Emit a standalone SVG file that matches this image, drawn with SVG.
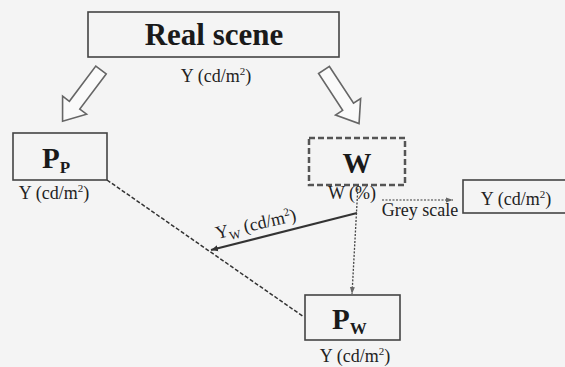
<svg xmlns="http://www.w3.org/2000/svg" width="565" height="367" viewBox="0 0 565 367">
<defs>
<style>
.box{fill:none;stroke:#444;stroke-width:1.6}
.dbox{fill:none;stroke:#555;stroke-width:2.5;stroke-dasharray:6,3}
.big{font-family:"Liberation Serif",serif;font-weight:bold;fill:#1a1a1a}
.lbl{font-family:"Liberation Serif",serif;font-size:18px;fill:#222}
.hollow{fill:#fafafa;stroke:#666;stroke-width:1.6;stroke-linejoin:miter}
</style>
<marker id="ah" markerWidth="8" markerHeight="8" refX="7" refY="4" orient="auto" markerUnits="userSpaceOnUse">
<path d="M0,1 L7,4 L0,7 z" fill="#333"/>
</marker>
<marker id="ahg" markerWidth="8" markerHeight="8" refX="7" refY="4" orient="auto" markerUnits="userSpaceOnUse">
<path d="M0,1.5 L7,4 L0,6.5 z" fill="#666"/>
</marker>
<path id="harrow" d="M0,-6.5 L44,-6.5 L44,-15 L64,0 L44,15 L44,6.5 L0,6.5 Z"/>
</defs>
<rect width="565" height="367" fill="#f4f4f4"/>

<g id="real-scene">
<rect class="box" x="88" y="12" width="251" height="45"/>
<text class="big" x="214" y="45" font-size="31" text-anchor="middle">Real scene</text>
<text class="lbl" x="216" y="82" text-anchor="middle">Y (cd/m<tspan font-size="11" dy="-7">2</tspan><tspan dy="7">)</tspan></text>
</g>

<g id="pp">
<rect class="box" x="13" y="133" width="94" height="47"/>
<text class="big" x="42" y="168" font-size="29">P<tspan font-size="17" dy="5">P</tspan></text>
<text class="lbl" x="54" y="199" text-anchor="middle">Y (cd/m<tspan font-size="11" dy="-7">2</tspan><tspan dy="7">)</tspan></text>
</g>

<g id="w">
<rect class="dbox" x="309" y="138" width="96" height="47"/>
<text class="big" x="357" y="173" font-size="29" text-anchor="middle">W</text>
<text class="lbl" x="352" y="199" text-anchor="middle" font-size="16">W (%)</text>
<text class="lbl" x="420" y="216" text-anchor="middle">Grey scale</text>
</g>

<g id="grey-y">
<rect class="box" x="463" y="180" width="104" height="33"/>
<text class="lbl" x="516" y="205" text-anchor="middle">Y (cd/m<tspan font-size="11" dy="-7">2</tspan><tspan dy="7">)</tspan></text>
</g>

<g id="pw">
<rect class="box" x="305" y="295" width="95" height="45"/>
<text class="big" x="332" y="329" font-size="29">P<tspan font-size="17" dy="5">W</tspan></text>
<text class="lbl" x="355" y="362" text-anchor="middle">Y (cd/m<tspan font-size="11" dy="-7">2</tspan><tspan dy="7">)</tspan></text>
</g>

<g id="connectors">
<use href="#harrow" class="hollow" transform="translate(101,70) rotate(126.9)"/>
<use href="#harrow" class="hollow" transform="translate(324,70) rotate(56.8)"/>
<line x1="107" y1="180" x2="304" y2="317" stroke="#333" stroke-width="1.5" stroke-dasharray="4,2"/>
<line x1="357" y1="213" x2="211" y2="250" stroke="#333" stroke-width="2" marker-end="url(#ah)"/>
<line x1="358" y1="185" x2="352" y2="294" stroke="#444" stroke-width="1.3" stroke-dasharray="2,1.5" marker-end="url(#ahg)"/>
<line x1="382" y1="200" x2="453" y2="200" stroke="#777" stroke-width="1.3" stroke-dasharray="2,1.5" marker-end="url(#ahg)"/>
<text class="lbl" transform="translate(217,239) rotate(-13)">Y<tspan font-size="12" dy="4">W</tspan><tspan dy="-4"> (cd/m</tspan><tspan font-size="11" dy="-7">2</tspan><tspan dy="7">)</tspan></text>
</g>
</svg>
